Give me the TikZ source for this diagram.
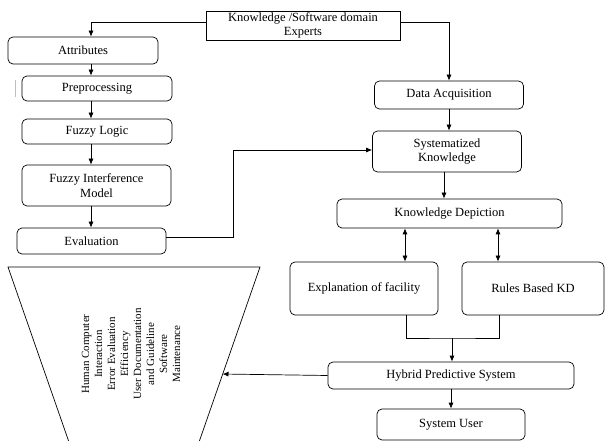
\documentclass[tikz,border=0pt]{standalone}
\usepackage{fontspec}
\setmainfont{Liberation Serif}
\usetikzlibrary{arrows.meta}

\begin{document}
\begin{tikzpicture}[x=1pt,y=-1pt,
  font=\fontsize{12.5}{14.5}\selectfont,
  line width=0.7pt,
  box/.style={draw,rounded corners=5pt,align=center,inner sep=0pt},
  sqbox/.style={draw,align=center,inner sep=0pt},
  arr/.style={-{Latex[length=6pt,width=5pt]}},
  darr/.style={{Latex[length=6pt,width=5pt]}-{Latex[length=6pt,width=5pt]}}]
\useasboundingbox (0,0) rectangle (606,441);
\node[sqbox,minimum width=194pt,minimum height=29pt] (experts) at (303,25.5) {Knowledge /Software domain\\Experts};
\node[box,minimum width=150pt,minimum height=27pt] (attr) at (83,50.5) {Attributes};
\node[box,minimum width=150pt,minimum height=25pt] (prep) at (97,88.5) {Preprocessing};
\node[box,minimum width=150pt,minimum height=25pt] (fuzzy) at (97,131.5) {Fuzzy Logic};
\node[box,minimum width=149pt,minimum height=41pt] (fim) at (96.5,185.5) {Fuzzy Interference\\Model};
\node[box,minimum width=149pt,minimum height=26pt] (eval) at (91.5,241) {Evaluation};
\node[box,minimum width=149pt,minimum height=28pt] (dataacq) at (449,95) {Data Acquisition};
\node[box,minimum width=149pt,minimum height=41pt] (sysk) at (447,151.5) {Systematized\\Knowledge};
\node[box,minimum width=225pt,minimum height=29pt] (kdep) at (449.5,213.5) {Knowledge Depiction};
\node[box,minimum width=148pt,minimum height=53pt] (expl) at (364,288.5) {Explanation of facility};
\node[box,minimum width=142pt,minimum height=53pt] (rules) at (533,288.5) {Rules Based KD};
\node[box,minimum width=246pt,minimum height=27pt] (hybrid) at (451,375.5) {Hybrid Predictive System};
\node[box,minimum width=148pt,minimum height=31pt] (user) at (451,424.5) {System User};
\coordinate (lcol) at (91,0);
\coordinate (join) at (452,338);
\draw (70,445) -- (8,267) -- (260,267) -- (198,445);
\path (260,267) -- (199,441) coordinate[pos=0.615] (fin);
\node[rotate=90,align=center,font=\fontsize{11}{13}\selectfont] (aspects) at (131,354)
  {Human Computer\\Interaction\\Error Evaluation\\Efficiency\\User Documentation\\and Guideline\\Software\\Maintenance};
\draw[gray!50,line width=1pt] (15,80) -- (15,97);
\draw[arr] ([yshift=3pt]experts.west) -| (attr.north -| lcol);
\draw[arr] (attr.south -| lcol) -- (prep.north -| lcol);
\draw[arr] (prep.south -| lcol) -- (fuzzy.north -| lcol);
\draw[arr] (fuzzy.south -| lcol) -- (fim.north -| lcol);
\draw[arr] (fim.south -| lcol) -- (eval.north -| lcol);
\draw[arr] ([yshift=4pt]eval.east) -- ++(67,0) |- ([yshift=1.5pt]sysk.west);
\draw[arr] ([yshift=3pt]experts.east) -| (dataacq.north);
\draw[arr] (dataacq.south) -- (sysk.north -| dataacq.south);
\draw[arr] ([xshift=-3pt]sysk.south) -- ([xshift=-3pt]sysk.south |- kdep.north);
\draw[darr] ([xshift=41pt]expl.north) -- ([xshift=41pt]expl.north |- kdep.south);
\draw[darr] ([xshift=-35pt]rules.north) -- ([xshift=-35pt]rules.north |- kdep.south);
\draw ([xshift=42pt]expl.south) |- (join) -| ([xshift=-34pt]rules.south);
\draw[arr] (join) -- (join |- hybrid.north);
\draw[arr] (hybrid.south) -- (user.north);
\draw[arr] (hybrid.west) -- (fin);
\end{tikzpicture}
\end{document}
